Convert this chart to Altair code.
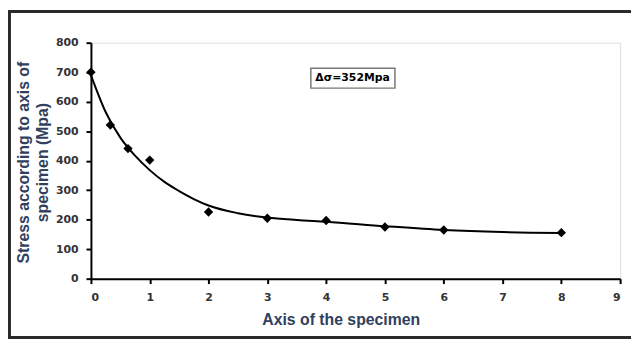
import altair as alt
import pandas as pd

# measured points
pt_x = [0, 0.33, 0.63, 1, 2, 3, 4, 5, 6, 8]
pt_y = [700, 521, 441, 402, 226, 205, 197, 175, 165, 156]

# trend curve
cv_x = [0, 0.25, 0.5, 0.75, 1, 1.25, 1.5, 1.75, 2, 2.5, 3, 3.5, 4, 5, 6, 7, 8]
cv_y = [690, 565, 478, 417, 368, 328, 297, 270, 248, 222, 207, 199, 193, 178, 165, 158, 155]

x_ticks = [0, 1, 2, 3, 4, 5, 6, 7, 8, 9]
y_ticks = [0, 100, 200, 300, 400, 500, 600, 700, 800]

note_text = ["Δσ=352Mpa"]
note_x = [4.45]
note_y = [679]
box_x, box_x2 = [3.74], [5.17]
box_y, box_y2 = [646], [713]

pts = pd.DataFrame({"x": pt_x, "y": pt_y})
cv = pd.DataFrame({"x": cv_x, "y": cv_y})
note = pd.DataFrame({"t": note_text, "x": note_x, "y": note_y})
box = pd.DataFrame({"x": box_x, "x2": box_x2, "y": box_y, "y2": box_y2})

lab_font = "DejaVu Sans"
title_font = "Liberation Sans"
title_color = "#31405e"

xs = alt.Scale(domain=[0, 9], nice=False)
ys = alt.Scale(domain=[0, 800], nice=False)

x_axis = alt.Axis(values=x_ticks, format="d", grid=False, tickSize=5, tickWidth=2, tickColor="black",
                  domainColor="black", domainWidth=2, labelFont=lab_font, labelFontWeight="bold",
                  labelFontSize=11, labelColor="#333333", labelPadding=8, labelOverlap=False,
                  title="Axis of the specimen", titleFont=title_font, titleFontSize=16,
                  titleFontWeight="bold", titleColor=title_color, titleX=253, titleY=33,
                  titleBaseline="top", titleAlign="center", titleAnchor="start")
y_axis = alt.Axis(values=y_ticks, format="d", grid=False, tickSize=5, tickWidth=2, tickColor="black",
                  domainColor="black", domainWidth=2, labelFont=lab_font, labelFontWeight="bold",
                  labelFontSize=11, labelColor="#333333", labelPadding=8, labelOverlap=False,
                  title=["Stress according to axis of", "specimen (Mpa)"], titleFont=title_font,
                  titleFontSize=16, titleFontWeight="bold", titleColor=title_color,
                  titleAngle=-90, titleX=-60, titleY=121, titleBaseline="bottom",
                  titleAlign="center", titleAnchor="start", titleLineHeight=19)

X = lambda f="x:Q": alt.X(f, scale=xs, axis=x_axis)
Y = lambda f="y:Q": alt.Y(f, scale=ys, axis=y_axis)

curve = alt.Chart(cv).mark_line(color="black", strokeWidth=2, interpolate="monotone").encode(
    x=X(), y=Y())
points = alt.Chart(pts).mark_point(shape="diamond", filled=True, color="black", size=90, opacity=1).encode(
    x=X(), y=Y())

boxm = alt.Chart(box).mark_rect(fill="white", stroke="#777777", strokeWidth=1.5).encode(
    x=X(), x2="x2:Q", y=Y(), y2="y2:Q")
text = alt.Chart(note).mark_text(font=lab_font, fontWeight="bold", fontSize=11, color="black").encode(
    x=X(), y=Y(), text="t:N")

border_src = pd.DataFrame({"k": [0]})
b_left = alt.Chart(border_src).mark_rule(color="#2a2a2a", strokeWidth=3).encode(
    x=alt.value(-82.5), y=alt.value(-33), y2=alt.value(300))
b_top = alt.Chart(border_src).mark_rule(color="#2a2a2a", strokeWidth=3).encode(
    x=alt.value(-84), x2=alt.value(550), y=alt.value(-31.5))
b_bot = alt.Chart(border_src).mark_rule(color="#2a2a2a", strokeWidth=3).encode(
    x=alt.value(-84), x2=alt.value(550), y=alt.value(298.5))

chart = alt.layer(curve, points, boxm, text, b_left, b_top, b_bot).properties(
    width=536, height=239,
    autosize=alt.AutoSizeParams(type="none"),
    padding={"left": 84, "top": 33, "right": 11, "bottom": 61},
).configure_view(stroke=None).configure(background="white")

chart.save("out.html", embed_options={"renderer": "svg", "actions": False})
